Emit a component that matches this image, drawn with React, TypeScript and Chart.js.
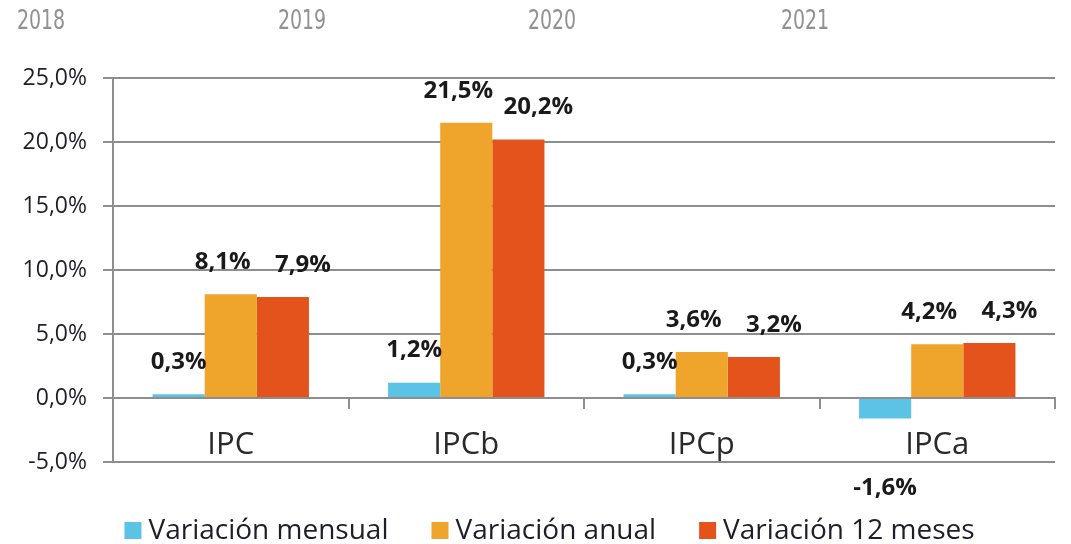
import React, { useEffect, useRef } from "react";
import { Chart, registerables } from "chart.js";

Chart.register(...registerables);

const categories = ["IPC", "IPCb", "IPCp", "IPCa"];
const seriesNames = ["Variación mensual", "Variación anual", "Variación 12 meses"];
const mensual = [0.3, 1.2, 0.3, -1.6];
const anual = [8.1, 21.5, 3.6, 4.2];
const doceMeses = [7.9, 20.2, 3.2, 4.3];
const yearLabels = ["2018", "2019", "2020", "2021"];
const yMin = -5;
const yMax = 25;
const yStep = 5;

const colors = ["#5BC3E5", "#EFA52B", "#E4531B"];
const FONT = "'Open Sans', sans-serif";
const GRID = "#8e8e8e";

const fmt = (v: number) => v.toFixed(1).replace(".", ",") + "%";

const labelShiftX = [0, -8, 20];

const valueLabels = {
  id: "valueLabels",
  afterDatasetsDraw(chart: any) {
    const ctx = chart.ctx;
    ctx.save();
    ctx.font = `bold 24px ${FONT}`;
    ctx.fillStyle = "#1a1a1a";
    ctx.textAlign = "center";
    ctx.textBaseline = "middle";
    chart.data.datasets.forEach((ds: any, di: number) => {
      const meta = chart.getDatasetMeta(di);
      meta.data.forEach((bar: any, i: number) => {
        const v = ds.data[i] as number;
        const x = bar.x + labelShiftX[di];
        const y = v >= 0 ? bar.y - 32 : bar.y + 70;
        ctx.fillText(fmt(v), x, y);
      });
    });
    ctx.restore();
  },
};

const bottomLegend = {
  id: "bottomLegend",
  afterDraw(chart: any) {
    const ctx = chart.ctx;
    ctx.save();
    ctx.font = `28px ${FONT}`;
    ctx.textBaseline = "alphabetic";
    ctx.textAlign = "left";
    const box = 17;
    const gapText = 7;
    const gapItem = 43;
    const items = chart.data.datasets.map((ds: any) => ({
      label: ds.label as string,
      color: ds.backgroundColor as string,
      w: ctx.measureText(ds.label).width,
    }));
    const total =
      items.reduce((s: number, it: any) => s + box + gapText + it.w, 0) + gapItem * (items.length - 1);
    let x = chart.width / 2 + 14 - total / 2;
    const baseline = chart.height - 5;
    items.forEach((it: any) => {
      ctx.fillStyle = it.color;
      ctx.fillRect(x, baseline - box, box, box);
      ctx.fillStyle = "#1e1e2a";
      ctx.fillText(it.label, x + box + gapText, baseline);
      x += box + gapText + it.w + gapItem;
    });
    ctx.restore();
  },
};

export default function App() {
  const ref = useRef<HTMLCanvasElement | null>(null);

  useEffect(() => {
    document.body.style.margin = "0";
    const chart = new Chart(ref.current as HTMLCanvasElement, {
      type: "bar",
      data: {
        labels: categories,
        datasets: [mensual, anual, doceMeses].map((d, i) => ({
          label: seriesNames[i],
          data: d,
          backgroundColor: colors[i],
          borderWidth: 0,
          categoryPercentage: 0.664,
          barPercentage: 1,
        })),
      },
      options: {
        animation: false,
        responsive: false,
        layout: { padding: { top: 78, right: 16, left: 0, bottom: 82 } },
        plugins: {
          tooltip: { enabled: false },
          legend: { display: false },
        },
        scales: {
          x: {
            position: { y: 0 } as any,
            grid: {
              offset: true,
              drawOnChartArea: false,
              color: GRID,
              lineWidth: 2,
              tickLength: 10,
            },
            border: { display: true, color: GRID, width: 2 },
            ticks: { color: "#2a2a2a", font: { family: FONT, size: 31 }, padding: 19 },
          },
          y: {
            min: yMin,
            max: yMax,
            ticks: {
              stepSize: yStep,
              callback: (v: any) => fmt(Number(v)),
              color: "#1e1e26",
              font: { family: FONT, size: 23 },
              padding: 16,
            },
            grid: { color: GRID, lineWidth: 2, tickLength: 10 },
            border: { display: true, color: GRID, width: 2 },
            afterFit: (s: any) => {
              s.width = 113;
            },
          },
        },
      },
      plugins: [valueLabels, bottomLegend],
    });
    return () => chart.destroy();
  }, []);

  const yearX = [41, 302, 552, 805];
  return (
    <div style={{ position: "absolute", left: 0, top: 0, width: 1071, height: 544, background: "#fff" }}>
      <canvas ref={ref} width={1071} height={544} />
      {yearLabels.map((y, i) => (
        <span
          key={y}
          style={{
            position: "absolute",
            left: yearX[i],
            top: 19,
            transform: "translate(-50%, -50%) scaleX(0.78)",
            fontFamily: "'Liberation Sans Narrow', 'DejaVu Sans Condensed', sans-serif",
            fontSize: 27,
            color: "#919191",
            whiteSpace: "nowrap",
          }}
        >
          {y}
        </span>
      ))}
    </div>
  );
}
